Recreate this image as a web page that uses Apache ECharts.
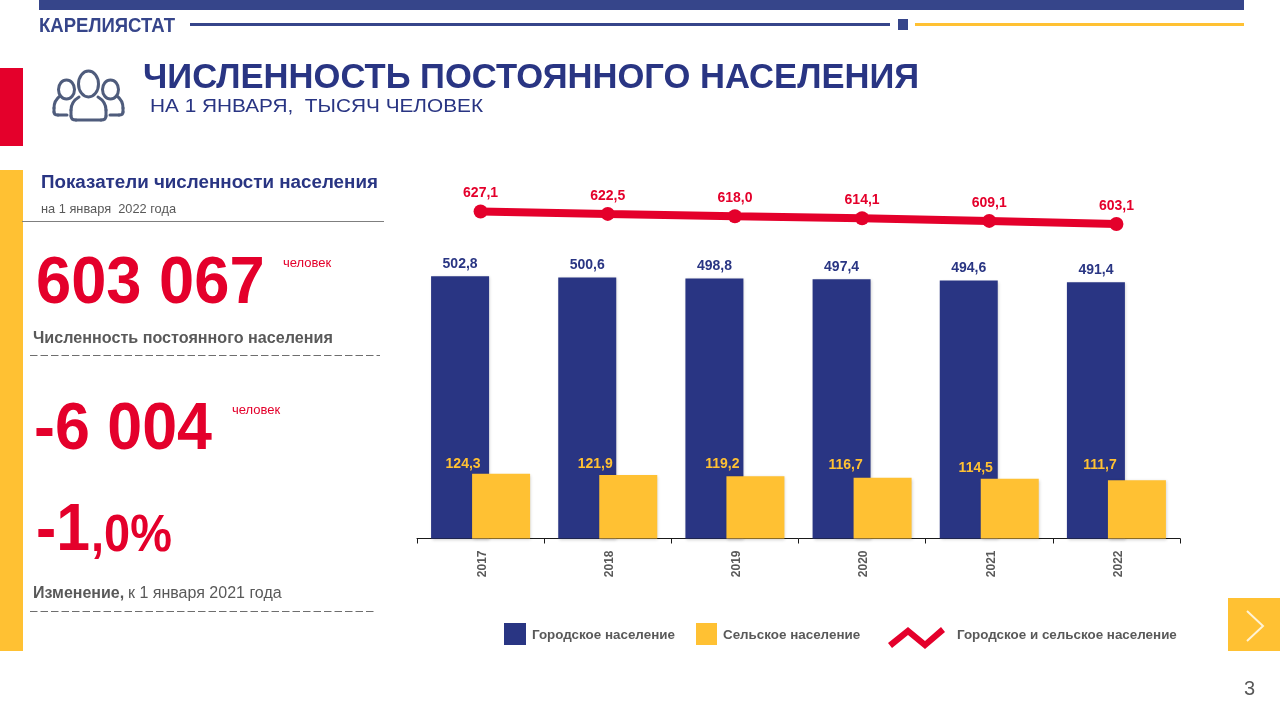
<!DOCTYPE html>
<html><head><meta charset="utf-8">
<style>html,body{margin:0;padding:0;background:#fff}#c{width:1280px;height:720px}</style>
<script src="https://cdn.jsdelivr.net/npm/echarts@6/dist/echarts.min.js"></script>
</head><body><div id="c"></div>
<script>
const years = ['2017','2018','2019','2020','2021','2022'];
const urban = [502.8,500.6,498.8,497.4,494.6,491.4];
const rural = [124.3,121.9,119.2,116.7,114.5,111.7];
const total = [627.1,622.5,618.0,614.1,609.1,603.1];
const ruralLabelNudgeX = [-38,-33,-33,-37,-34,-37];
const ruralLabelNudgeY = [0,-1,-2,-3,-1,-5];

const NAVY='#293583', YEL='#FFC133', RED='#E4002B', GRAY='#595959';
const FONT='"Liberation Sans", Arial, sans-serif';
const comma = v => v.toFixed(1).replace('.',',');
const txt=(x,y,text,size,color,bold,extra)=>Object.assign({type:'text',x,y,style:{text,fill:color,font:(bold?'bold ':'')+size+'px '+FONT,textVerticalAlign:'middle'}},extra||{});
const rect=(x,y,w,h,fill)=>({type:'rect',shape:{x,y,width:w,height:h},style:{fill}});
const seg=(x1,y1,x2,y2,stroke,w,dash)=>({type:'line',shape:{x1,y1,x2,y2},style:{stroke,lineWidth:w,lineDash:dash}});
const ICON='#4F5C7C';
const iconStroke={stroke:ICON,lineWidth:3,fill:'none',lineCap:'round'};
const bez=(x1,y1,cpx1,cpy1,cpx2,cpy2,x2,y2)=>({type:'bezierCurve',shape:{x1,y1,cpx1,cpy1,cpx2,cpy2,x2,y2},style:iconStroke});
const ln=(x1,y1,x2,y2)=>({type:'line',shape:{x1,y1,x2,y2},style:iconStroke});
const legendText=p=>({color:GRAY,fontWeight:'bold',fontSize:13.4,fontFamily:FONT,padding:p});

const option={
  animation:false,
  backgroundColor:'#fff',
  textStyle:{fontFamily:FONT},
  grid:{left:417,width:763,top:173.5,height:365},
  xAxis:{type:'category',data:years,
    axisLine:{lineStyle:{color:'#1a1a1a',width:1}},
    axisTick:{show:true,alignWithLabel:false,length:5,lineStyle:{color:'#1a1a1a',width:1}},
    axisLabel:{rotate:90,color:GRAY,fontWeight:'bold',fontSize:12,fontFamily:FONT,margin:12,verticalAlign:'top',lineHeight:4}},
  yAxis:{type:'value',min:0,max:700,show:false,splitLine:{show:false}},
  legend:[
    {left:504,top:623,padding:0,itemWidth:22,itemHeight:24,data:[{name:'Городское население',icon:'path://M0,0 L22,0 L22,22 L0,22 Z M0,24 L0.01,24 Z'}],textStyle:legendText([0,0,0,1])},
    {left:696,top:623,padding:0,itemWidth:21,itemHeight:24,data:[{name:'Сельское население',icon:'path://M0,0 L21,0 L21,22 L0,22 Z M0,24 L0.01,24 Z'}],textStyle:legendText([0,0,0,1])},
    {left:888,top:621,padding:0,itemWidth:57,itemHeight:28,data:[{name:'Городское и сельское население',icon:'path://M0,22 L20,6 L37,20 L53,6 L57,11 L37,28 L20,14 L4,27 Z M0,0 L0.01,0 Z'}],textStyle:legendText([0,0,0,7])}
  ],
  series:[
    {name:'Городское население',type:'bar',data:urban,barWidth:58,barGap:'-29.3%',z:2,
      itemStyle:{color:NAVY,shadowColor:'rgba(0,0,0,0.18)',shadowBlur:3,shadowOffsetX:1,shadowOffsetY:1},
      label:{show:true,position:'top',distance:5,color:NAVY,fontWeight:'bold',fontSize:14,fontFamily:FONT,formatter:p=>comma(p.value)}},
    {name:'Сельское население',type:'bar',barWidth:58,barGap:'-29.3%',data:rural.map((v,i)=>({value:v,label:{offset:[ruralLabelNudgeX[i],ruralLabelNudgeY[i]]}})),z:3,
      itemStyle:{color:YEL,shadowColor:'rgba(0,0,0,0.18)',shadowBlur:3,shadowOffsetX:1,shadowOffsetY:1},
      label:{show:true,position:'top',distance:3,color:YEL,fontWeight:'bold',fontSize:14,fontFamily:FONT,formatter:p=>comma(p.value)}},
    {name:'Городское и сельское население',type:'line',data:total,z:4,symbol:'circle',symbolSize:14,showSymbol:true,
      lineStyle:{color:RED,width:8,cap:'round'},itemStyle:{color:RED},
      label:{show:true,position:'top',distance:4,color:RED,fontWeight:'bold',fontSize:14,fontFamily:FONT,formatter:p=>comma(p.value)}}
  ],
  graphic:{elements:[
    rect(39,0,1205,10,'#36458A'),
    seg(190,24.5,890,24.5,'#36458A',3),
    rect(898,19,10,11,'#36458A'),
    seg(915,24.5,1244,24.5,YEL,3),
    txt(39,26,'КАРЕЛИЯСТАТ',20,'#36458A',true,{scaleX:0.927}),
    rect(0,68,23,78,RED),
    rect(0,170,23,481,YEL),
    {type:'ellipse',shape:{cx:88.5,cy:84,rx:10,ry:13},style:iconStroke},
    {type:'ellipse',shape:{cx:66.5,cy:89.5,rx:8,ry:9.5},style:iconStroke},
    {type:'ellipse',shape:{cx:110.5,cy:89.5,rx:8,ry:9.5},style:iconStroke},
    bez(79,97,74,100,71,104,71,110), ln(71,110,71,116), bez(71,116,71,119,73,120,76,120),
    ln(76,120,101,120),
    bez(101,120,104,120,106,119,106,116), ln(106,116,106,110), bez(106,110,106,104,103,100,98,97),
    bez(60,96,56,99,54,103,54,108), ln(54,108,54,112), bez(54,112,54,114,56,115,58,115), ln(58,115,67,115),
    bez(117,96,121,99,123,103,123,108), ln(123,108,123,112), bez(123,112,123,114,121,115,119,115), ln(119,115,110,115),
    txt(143,78,'ЧИСЛЕННОСТЬ ПОСТОЯННОГО НАСЕЛЕНИЯ',34.6,NAVY,true),
    txt(150,107,'НА 1 ЯНВАРЯ,  ТЫСЯЧ ЧЕЛОВЕК',18.5,NAVY,false,{scaleX:1.124}),
    txt(41,183,'Показатели численности населения',18.8,NAVY,true),
    txt(41,209,'на 1 января  2022 года',12.8,GRAY,false),
    seg(22,221.5,384,221.5,'#7F7F7F',1),
    txt(36,285,'603 067',66,RED,true,{scaleX:0.958}),
    txt(283,263,'человек',13,RED,false),
    txt(33,339,'Численность постоянного населения',16.15,GRAY,true),
    seg(30,355.5,380,355.5,'#6E6E6E',1,[7.5,3]),
    txt(34,431,'-6 004',66,RED,true,{scaleX:0.951}),
    txt(232,410,'человек',13,RED,false),
    txt(36,532,'-1',66,RED,true,{scaleX:0.92}),
    txt(91,537,',0%',51,RED,true,{scaleX:0.92}),
    txt(33,594,'Изменение,',16,GRAY,true),
    txt(128,594,'к 1 января 2021 года',16,GRAY,false),
    seg(30,611.5,376,611.5,'#6E6E6E',1,[7.5,3]),
    rect(1228,598,52,53,YEL),
    {type:'polyline',shape:{points:[[1247,611],[1263,626],[1247,641]]},style:{stroke:'#FFF3D6',lineWidth:2,fill:'none'}},
    txt(1244,689,'3',20,GRAY,false)
  ]}
};
const chart=echarts.init(document.getElementById('c'),null,{renderer:'canvas'});
chart.setOption(option);
</script></body></html>
